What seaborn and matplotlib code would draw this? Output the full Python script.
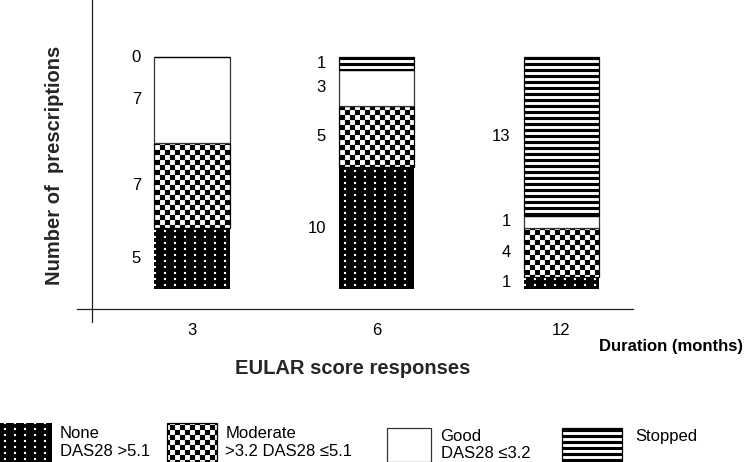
import numpy as np
import seaborn as sns
import matplotlib
matplotlib.use("Agg")
import matplotlib.pyplot as plt
import matplotlib.hatch as mhatch
from matplotlib.path import Path

# data
months = ["3", "6", "12"]
none_vals = [5, 10, 1]
moderate_vals = [7, 5, 4]
good_vals = [7, 3, 1]
stopped_vals = [0, 1, 13]
legend_labels = ["None\nDAS28 >5.1", "Moderate\n>3.2 DAS28 \u22645.1",
                 "Good\nDAS28 \u22643.2", "Stopped\n"]

DPI = 90  # hatch tile is one inch, 90 px -> whole-pixel cells, stripes and dots


# filled hatch patterns: 'c' checkerboard, 's' horizontal stripes, 'd' dots
class BlockHatch(mhatch.HatchPatternBase):
    def __init__(self, hatch, density):
        self.rects = []
        n = hatch.count('c') * density
        for i in range(n):
            for j in range(n):
                if (i + j) % 2 == 0:
                    self.rects.append((i / n, j / n, 1 / n, 1 / n))
        m = hatch.count('s') * 3
        for k in range(m):
            self.rects.append((0, k / m, 1, 0.5 / m))
        rows = hatch.count('d') * 3
        cols = rows * 3 // 5
        dot = 2 / DPI
        for i in range(cols):
            for j in range(rows):
                self.rects.append(((i + 0.5) / cols - dot / 2, (j + 0.5) / rows - dot / 2, dot, dot))
        self.num_vertices = 5 * len(self.rects)

    def set_vertices_and_codes(self, vertices, codes):
        for k, (x, y, w, h) in enumerate(self.rects):
            vertices[5 * k:5 * k + 5] = [(x, y), (x + w, y), (x + w, y + h), (x, y + h), (x, y)]
            codes[5 * k:5 * k + 5] = [Path.MOVETO, Path.LINETO, Path.LINETO,
                                      Path.LINETO, Path.CLOSEPOLY]


mhatch._hatch_types.append(BlockHatch)
mhatch._validate_hatch_pattern = lambda hatch: None

sns.set_style("white")
plt.rcParams['font.family'] = ['Liberation Sans', 'DejaVu Sans']
plt.rcParams['hatch.linewidth'] = 0.1
plt.rcParams['text.color'] = 'black'

S = 100 / DPI  # sizes below were measured for 100 dpi
fig = plt.figure(figsize=(746 / DPI, 462 / DPI), dpi=DPI)
ax = fig.add_axes([92 / 746, 153 / 462, 608 / 746, 309 / 462])

layers = [none_vals, moderate_vals, good_vals, stopped_vals]
styles = [dict(color='black', edgecolor='white', linewidth=0, hatch='ddddd'),
          dict(color='white', edgecolor='black', linewidth=0.9 * S, hatch='ccc'),
          dict(color='white', edgecolor='#333333', linewidth=0.9 * S, hatch=None),
          dict(color='white', edgecolor='black', linewidth=0.9 * S, hatch='sssss')]

bar_w = 0.41
bottom = np.zeros(len(months))
for vals, st in zip(layers, styles):
    sns.barplot(x=months, y=vals, bottom=bottom, width=bar_w, saturation=1,
                errorbar=None, ax=ax, **st)
    for i, v in enumerate(vals):
        ax.text(i - bar_w / 2 - 0.07, bottom[i] + v / 2, str(v),
                ha='right', va='center', fontsize=12 * S)
    bottom = bottom + np.array(vals)

ax.set_xlim(-0.54, 2.75)
ax.set_ylim(-1.64, 23.7)
ax.set_yticks([])

# axis lines crossing like the original
ax.spines[['top', 'right']].set_visible(False)
for s in ['left', 'bottom']:
    ax.spines[s].set_color('#222222')
    ax.spines[s].set_linewidth(0.9 * S)
ax.spines['left'].set_bounds(-2.7, 23.7)
ax.spines['bottom'].set_bounds(-0.62, 2.385)

ax.tick_params(axis='x', which='major', length=0, pad=10 * S, labelsize=12 * S,
               labelcolor='black')
ax.set_xticks(np.arange(len(months)) + 0.385, minor=True)
ax.tick_params(axis='x', which='minor', direction='in', length=5 * S, width=0.9 * S,
               color='#222222')

ax.set_xlabel("EULAR score responses", fontsize=14.5 * S, fontweight='bold')
ax.xaxis.set_label_coords(0.429, -0.162)
ax.set_ylabel("Number of  prescriptions", fontsize=14.5 * S, fontweight='bold')
ax.yaxis.set_label_coords(-0.046, 0.466)

fig.text(0.996, 0.249, "Duration (months)", ha='right', va='center',
         fontsize=12 * S, fontweight='bold')

# legend, one entry per block as in the original layout
handles = [c.patches[0] for c in ax.containers]
for h, lab, x0, hl, hh, pad in zip(handles, legend_labels,
                                   [0.0, 0.224, 0.519, 0.753],
                                   [3.1, 3.0, 2.6, 3.6],
                                   [3.22, 3.22, 2.76, 2.76],
                                   [0.5, 0.5, 0.6, 0.8]):
    leg = fig.legend([h], [lab], loc='lower left', bbox_to_anchor=(x0, 0.0),
                     frameon=False, fontsize=12 * S, handlelength=hl, handleheight=hh,
                     handletextpad=pad, borderpad=0, borderaxespad=0)
    for col in leg._legend_handle_box.get_children():
        for row in col.get_children():
            row.align = 'center'

plt.savefig('out.png', dpi=DPI)
